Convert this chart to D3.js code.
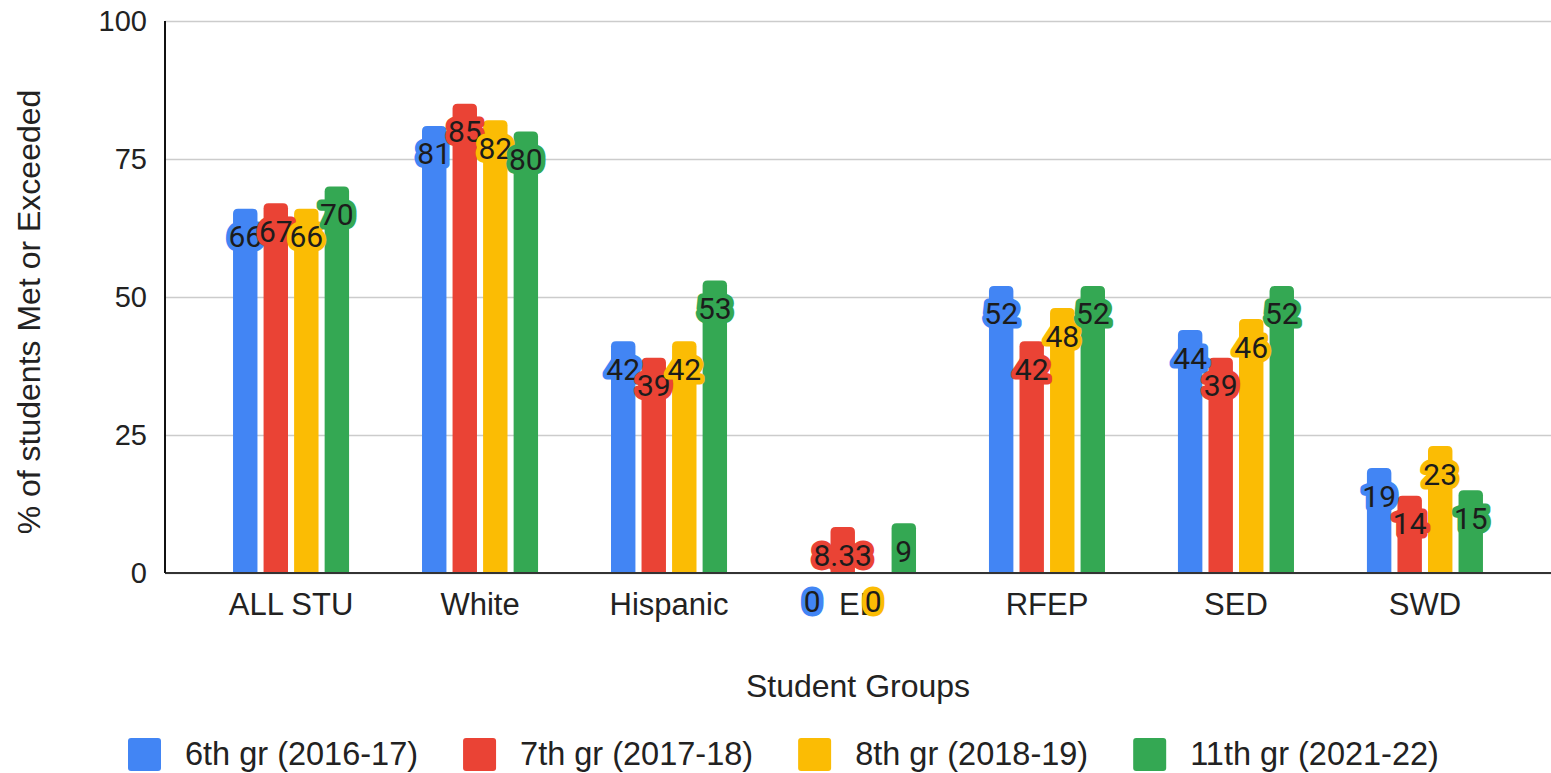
<!DOCTYPE html>
<html>
<head>
<meta charset="utf-8">
<script src="https://cdn.jsdelivr.net/npm/d3@7"></script>
<style>
  body { margin: 0; background: #fff; }
  svg { display: block; }
</style>
</head>
<body>
<svg id="chart"></svg>
<script>
// data
var groups = ['ALL STU', 'White', 'Hispanic', 'EL', 'RFEP', 'SED', 'SWD']
var seriesNames = ['6th gr (2016-17)', '7th gr (2017-18)', '8th gr (2018-19)', '11th gr (2021-22)']
var grade6 = [66, 81, 42, 0, 52, 44, 19]
var grade7 = [67, 85, 39, 8.33, 42, 39, 14]
var grade8 = [66, 82, 42, 0, 48, 46, 23]
var grade11 = [70, 80, 53, 9, 52, 52, 15]
var yTicks = [0, 25, 50, 75, 100]
var colors = ['#4285F4', '#EA4335', '#FBBC04', '#34A853']

var seriesValues = [grade6, grade7, grade8, grade11]

var W = 1551, H = 773
var plotL = 165, plotR = 1551, plotT = 21, plotB = 573
var axisFont = '"Liberation Sans", Arial, sans-serif'

var svg = d3.select('#chart').attr('width', W).attr('height', H)

var x0 = d3.scaleBand()
  .domain(groups)
  .range([plotL, plotR])
  .paddingInner(0.386)
  .paddingOuter(0.36)

var x1 = d3.scaleBand()
  .domain(d3.range(seriesNames.length))
  .range([0, x0.bandwidth()])
  .paddingInner(0.2)

var y = d3.scaleLinear().domain([0, 100]).range([plotB, plotT])

// gridlines + tick labels
var yAxis = d3.axisLeft(y)
  .tickValues(yTicks)
  .tickSize(-(plotR - plotL))
  .tickPadding(18)

var gy = svg.append('g')
  .attr('transform', 'translate(' + plotL + ',0)')
  .call(yAxis)
gy.select('.domain').remove()
gy.selectAll('.tick line').attr('stroke', '#cccccc').attr('stroke-width', 1.6)
gy.selectAll('.tick text')
  .attr('fill', '#222')
  .style('font-family', axisFont)
  .style('font-size', '29px')

// bars, rounded at the top
function barPath(x, w, yTop, yBase, r) {
  var h = yBase - yTop
  if (h <= 0) return ''
  r = Math.min(r, h, w / 2)
  return 'M' + x + ',' + yBase +
    'V' + (yTop + r) +
    'Q' + x + ',' + yTop + ' ' + (x + r) + ',' + yTop +
    'H' + (x + w - r) +
    'Q' + (x + w) + ',' + yTop + ' ' + (x + w) + ',' + (yTop + r) +
    'V' + yBase + 'Z'
}

var cells = []
groups.forEach(function (g, gi) {
  seriesValues.forEach(function (vals, si) {
    cells.push({ group: g, s: si, value: vals[gi] })
  })
})

svg.append('g')
  .selectAll('path')
  .data(cells)
  .join('path')
  .attr('fill', function (d) { return colors[d.s] })
  .attr('d', function (d) {
    return barPath(x0(d.group) + x1(d.s), x1.bandwidth(), y(d.value), y(0), 5)
  })

// x axis
var xAxis = d3.axisBottom(x0).tickSize(0).tickPadding(20)
var gx = svg.append('g')
  .attr('transform', 'translate(0,' + plotB + ')')
  .call(xAxis)
gx.select('.domain').remove()
gx.selectAll('.tick text')
  .attr('fill', '#222')
  .style('font-family', axisFont)
  .style('font-size', '31px')

// axis lines
svg.append('line')
  .attr('x1', plotL).attr('x2', plotR)
  .attr('y1', y(0)).attr('y2', y(0))
  .attr('stroke', '#333').attr('stroke-width', 2)
svg.append('line')
  .attr('x1', plotL).attr('x2', plotL)
  .attr('y1', y(100)).attr('y2', y(0))
  .attr('stroke', '#111').attr('stroke-width', 2)

// data labels with halo
svg.append('g')
  .selectAll('text')
  .data(cells)
  .join('text')
  .attr('x', function (d) { return x0(d.group) + x1(d.s) + x1.bandwidth() / 2 })
  .attr('y', function (d) { return y(d.value) + 28 })
  .attr('text-anchor', 'middle')
  .attr('dominant-baseline', 'central')
  .style('font-family', 'Roboto, sans-serif')
  .style('font-size', '30px')
  .attr('fill', '#1c1c1c')
  .attr('stroke', function (d) { return colors[d.s] })
  .attr('stroke-width', 9)
  .attr('stroke-linejoin', 'round')
  .attr('paint-order', 'stroke')
  .text(function (d) { return d.value })

// axis titles
svg.append('text')
  .attr('transform', 'translate(40,' + ((plotT + plotB) / 2 + 15) + ') rotate(-90)')
  .attr('text-anchor', 'middle')
  .attr('fill', '#222')
  .style('font-family', axisFont)
  .style('font-size', '32px')
  .text('% of students Met or Exceeded')

svg.append('text')
  .attr('x', (plotL + plotR) / 2)
  .attr('y', 697)
  .attr('text-anchor', 'middle')
  .attr('fill', '#222')
  .style('font-family', axisFont)
  .style('font-size', '32px')
  .text('Student Groups')

// legend
var legend = svg.append('g')
var lx = 128
seriesNames.forEach(function (name, i) {
  var item = legend.append('g')
  item.append('rect')
    .attr('x', lx).attr('y', 738)
    .attr('width', 33).attr('height', 33)
    .attr('rx', 3)
    .attr('fill', colors[i])
  var t = item.append('text')
    .attr('x', lx + 57)
    .attr('y', 765)
    .attr('fill', '#222')
    .style('font-family', axisFont)
    .style('font-size', '32.5px')
    .text(name)
  lx = lx + 57 + t.node().getComputedTextLength() + 45
})
</script>
</body>
</html>
